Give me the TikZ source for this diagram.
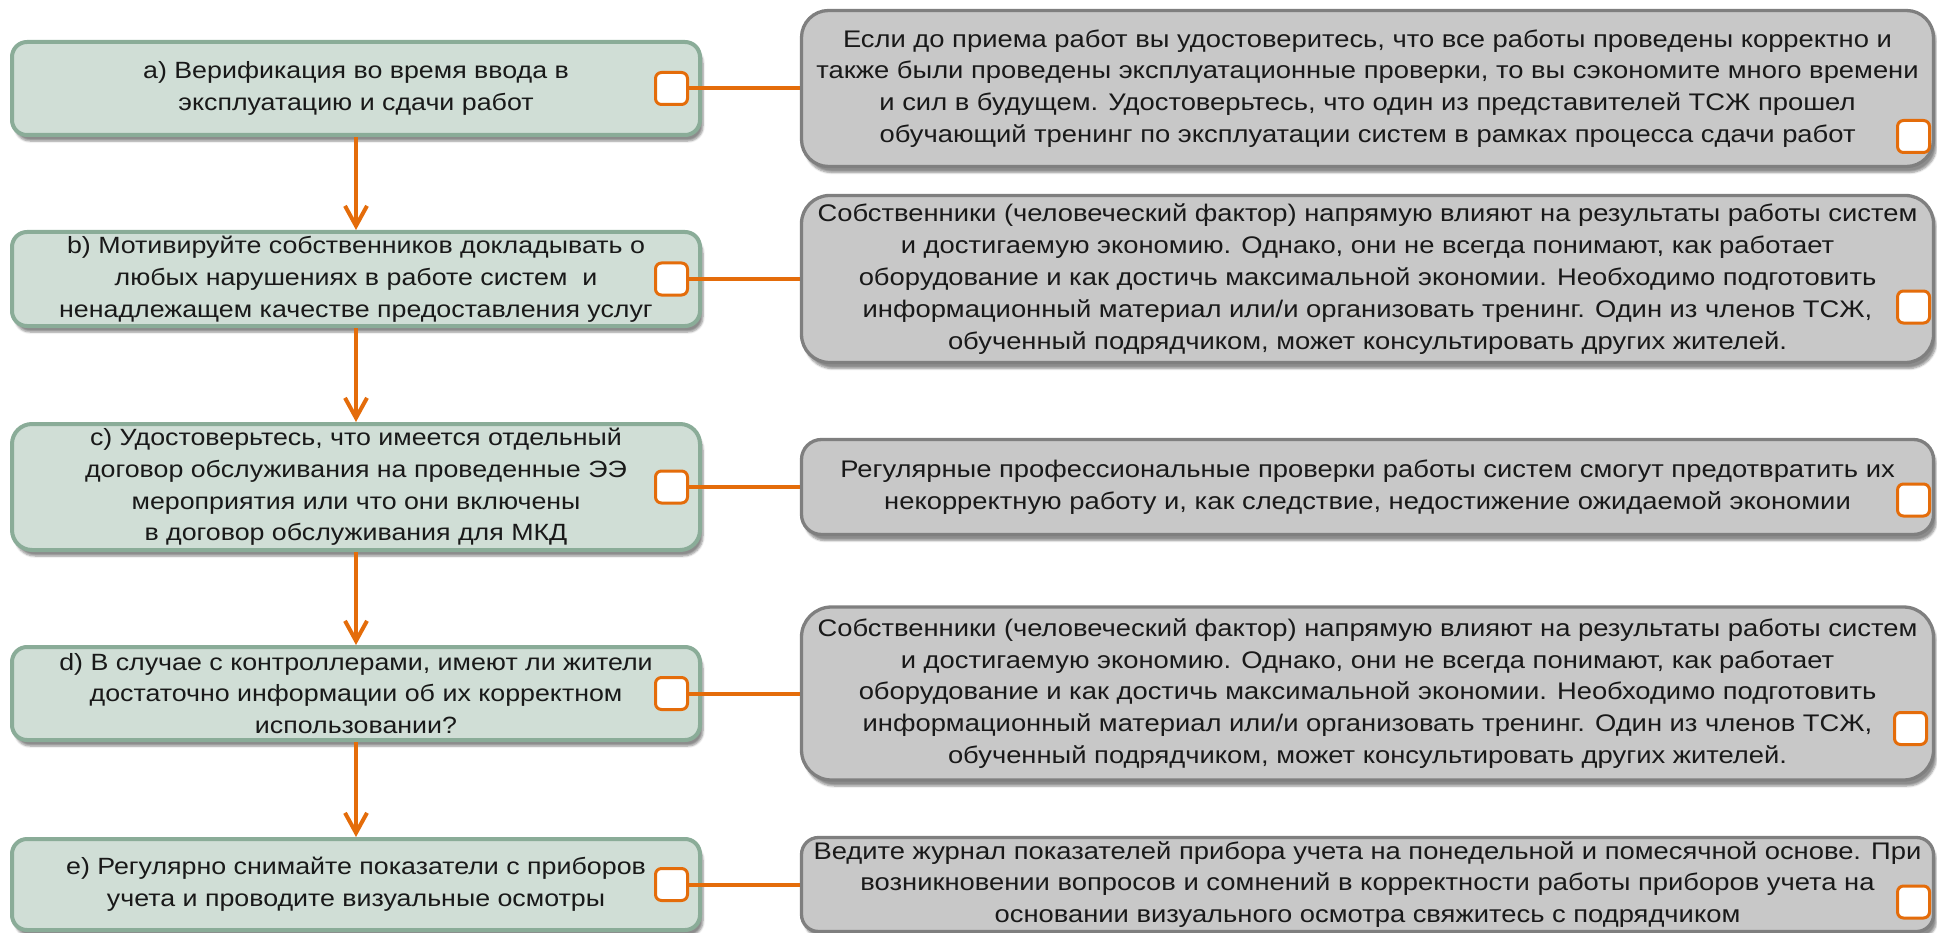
\documentclass[tikz,border=0pt]{standalone}
\usepackage{fontspec}
\setmainfont{Liberation Sans}[FakeStretch=1.14]
\usepackage{xcolor}
\usepackage{tikz}
\usetikzlibrary{arrows.meta,shadows.blur}
\definecolor{sage}{RGB}{208,222,214}
\definecolor{sageline}{RGB}{138,172,152}
\definecolor{greyfill}{RGB}{200,200,200}
\definecolor{greyline}{RGB}{127,127,127}
\definecolor{tickorange}{RGB}{228,108,10}

\begin{document}
\begin{tikzpicture}[x=1pt,y=-1pt,font=\fontsize{23.5}{31.8}\selectfont,
  every node/.style={align=center,inner sep=0pt,text=black!90},
  stage/.style={draw=sageline,fill=sage,line width=4pt,minimum width=688pt,rounded corners=15pt,
    blur shadow={shadow xshift=3pt,shadow yshift=-6pt,shadow blur steps=6,shadow opacity=45}},
  note/.style={draw=greyline,fill=greyfill,line width=3.3pt,minimum width=1132pt,rounded corners=20pt,
    font=\fontsize{24}{31.8}\selectfont,
    blur shadow={shadow xshift=3pt,shadow yshift=-6pt,shadow blur steps=6,shadow opacity=45}},
  tick/.style={draw=tickorange,fill=white,line width=3pt,minimum size=32pt,rounded corners=6pt},
  link/.style={draw=tickorange,line width=4pt},
  flow/.style={link,-{Straight Barb[length=20pt,width=22pt]}}]
  \useasboundingbox (0,0) rectangle (1937,933);

  \node[stage,minimum height=93pt] (a) at (356,88.5) {a) Верификация во время ввода в\\эксплуатацию и сдачи работ};
  \node[stage,minimum height=94pt] (b) at (356,279) {b) Мотивируйте собственников докладывать о\\любых нарушениях в работе систем~ и\\ненадлежащем качестве предоставления услуг};
  \node[stage,minimum height=126pt,rounded corners=20pt] (c) at (356,487) {c) Удостоверьтесь, что имеется отдельный\\договор обслуживания на проведенные ЭЭ\\мероприятия или что они включены\\в договор обслуживания для МКД};
  \node[stage,minimum height=93pt] (d) at (356,693.5) {d) В случае с контроллерами, имеют ли жители\\достаточно информации об их корректном\\использовании?};
  \node[stage,minimum height=91pt] (e) at (356,884.5) {e) Регулярно снимайте показатели с приборов\\учета и проводите визуальные осмотры};

  \node[note,minimum height=156pt,rounded corners=27pt] (na) at (1367.5,88.5) {Если до приема работ вы удостоверитесь, что все работы проведены корректно и\\также были проведены эксплуатационные проверки, то вы сэкономите много времени\\и сил в будущем. Удостоверьтесь, что один из представителей ТСЖ прошел\\обучающий тренинг по эксплуатации систем в рамках процесса сдачи работ};
  \node[note,minimum height=167pt,rounded corners=28pt] (nb) at (1367.5,279) {Собственники (человеческий фактор) напрямую влияют на результаты работы систем\\и достигаемую экономию. Однако, они не всегда понимают, как работает\\оборудование и как достичь максимальной экономии. Необходимо подготовить\\информационный материал или/и организовать тренинг. Один из членов ТСЖ,\\обученный подрядчиком, может консультировать других жителей.};
  \node[note,minimum height=95pt] (nc) at (1367.5,487) {Регулярные профессиональные проверки работы систем смогут предотвратить их\\некорректную работу и, как следствие, недостижение ожидаемой экономии};
  \node[note,minimum height=173pt,rounded corners=30pt] (nd) at (1367.5,693.5) {Собственники (человеческий фактор) напрямую влияют на результаты работы систем\\и достигаемую экономию. Однако, они не всегда понимают, как работает\\оборудование и как достичь максимальной экономии. Необходимо подготовить\\информационный материал или/и организовать тренинг. Один из членов ТСЖ,\\обученный подрядчиком, может консультировать других жителей.};
  \node[note,minimum height=94pt,rounded corners=17pt] (ne) at (1367.5,884.5) {Ведите журнал показателей прибора учета на понедельной и помесячной основе. При\\возникновении вопросов и сомнений в корректности работы приборов учета на\\основании визуального осмотра свяжитесь с подрядчиком};

  \node[tick] (ta) at (671.5,88.5) {};
  \node[tick] (tb) at (671.5,279) {};
  \node[tick] (tc) at (671.5,487) {};
  \node[tick] (td) at (671.5,693.5) {};
  \node[tick] (te) at (671.5,884.5) {};
  \node[tick] (sa) at (1913.5,136.5) {};
  \node[tick] (sb) at (1913.5,307) {};
  \node[tick] (sc) at (1913.5,500) {};
  \node[tick] (sd) at (1910.5,728.5) {};
  \node[tick] (se) at (1913.5,902) {};

  \draw[link] (ta) -- (na);
  \draw[link] (tb) -- (nb);
  \draw[link] (tc) -- (nc);
  \draw[link] (td) -- (nd);
  \draw[link] (te) -- (ne);
  \draw[flow] (a) -- (b);
  \draw[flow] (b) -- (c);
  \draw[flow] (c) -- (d);
  \draw[flow] (d) -- (e);
\end{tikzpicture}
\end{document}
